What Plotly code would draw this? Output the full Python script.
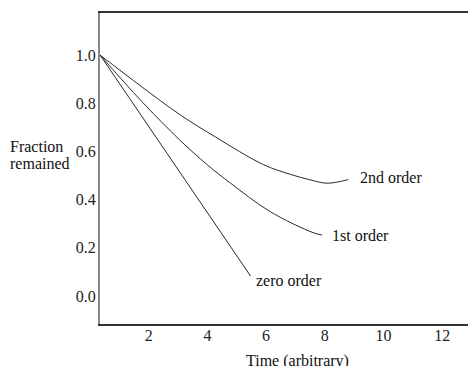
import plotly.graph_objects as go

# Data
zero_t = [0, 5.13]
zero_y = [1.0, 0.083]

first_t = [0, 1.4, 2.72, 3.66, 4.44, 5.80, 7.26, 7.57]
first_y = [1.0, 0.81, 0.647, 0.544, 0.469, 0.350, 0.263, 0.253]

second_t = [0, 1.4, 2.74, 3.93, 5.57, 6.48, 7.16, 7.74, 8.46]
second_y = [1.0, 0.87, 0.751, 0.660, 0.545, 0.505, 0.482, 0.468, 0.483]

x_ticks = [2, 4, 6, 8, 10, 12]
y_ticks = [0.0, 0.2, 0.4, 0.6, 0.8, 1.0]
y_ticktext = ["0.0", "0.2", "0.4", "0.6", "0.8", "1.0"]

labels = ["2nd order", "1st order", "zero order"]
label_t = [8.8, 7.85, 5.24]
label_y = [0.49, 0.253, 0.066]

ylabel_lines = ["Fraction", "remained"]
ylabel_pos = [0.622, 0.549]

FONT = "Liberation Serif, Times New Roman, serif"
LINE = "#2a2a2a"

fig = go.Figure()
fig.add_trace(go.Scatter(x=zero_t, y=zero_y, mode="lines",
                         line=dict(color=LINE, width=1)))
fig.add_trace(go.Scatter(x=first_t, y=first_y, mode="lines",
                         line=dict(color=LINE, width=1, shape="spline", smoothing=1.0)))
fig.add_trace(go.Scatter(x=second_t, y=second_y, mode="lines",
                         line=dict(color=LINE, width=1, shape="spline", smoothing=1.0)))

for txt, tx, ty in zip(labels, label_t, label_y):
    fig.add_annotation(x=tx, y=ty, text=txt, showarrow=False, xanchor="left",
                       yanchor="middle", font=dict(family=FONT, size=16, color="#111"))

for txt, ty in zip(ylabel_lines, ylabel_pos):
    fig.add_annotation(xref="paper", x=-0.25, y=ty, text=txt,
                       showarrow=False, xanchor="left", yanchor="middle", align="left",
                       font=dict(family=FONT, size=16, color="#111"))
fig.add_annotation(x=6.72, xref="x", yref="paper", y=-0.119, text="Time (arbitrary)",
                   showarrow=False, xanchor="center", yanchor="middle",
                   font=dict(family=FONT, size=16, color="#111"))

fig.update_layout(
    width=468, height=366,
    margin=dict(l=100, r=0, t=13, b=42),
    paper_bgcolor="white", plot_bgcolor="white",
    showlegend=False,
    font=dict(family=FONT, size=16, color="#222"),
)
fig.update_xaxes(range=[0, 12.54], tickvals=x_ticks, ticks="", showgrid=False,
                 zeroline=False, showline=True, linecolor="#333", linewidth=1.5,
                 mirror=True, ticklabelshift=-10, ticklabelstandoff=-4,
                 tickfont=dict(family=FONT, size=16, color="#222"))
fig.update_yaxes(range=[-0.116, 1.174], tickvals=y_ticks, ticktext=y_ticktext,
                 ticks="", showgrid=False, zeroline=False, showline=True,
                 linecolor="#888", linewidth=2, ticklabelstandoff=-1,
                 tickfont=dict(family=FONT, size=16, color="#222"))

fig.write_html("out.html", config={"displayModeBar": False},
               post_script="document.body.style.margin='0';")
